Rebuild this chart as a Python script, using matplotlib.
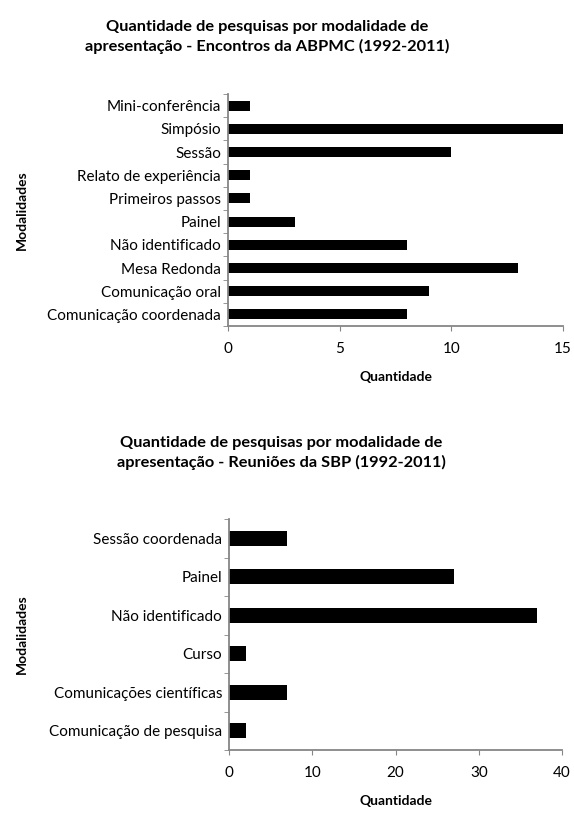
import matplotlib
matplotlib.use("Agg")
import matplotlib.pyplot as plt
import numpy as np

plt.rcParams['font.family'] = ['Lato', 'DejaVu Sans']

# --- dados ---
abpmc_cats = ["Comunicação coordenada", "Comunicação oral", "Mesa Redonda",
              "Não identificado", "Painel", "Primeiros passos",
              "Relato de experiência", "Sessão", "Simpósio", "Mini-conferência"]
abpmc_vals = [8, 9, 13, 8, 3, 1, 1, 10, 15, 1]
abpmc_xticks = [0, 5, 10, 15]

sbp_cats = ["Comunicação de pesquisa", "Comunicações científicas", "Curso",
            "Não identificado", "Painel", "Sessão coordenada"]
sbp_vals = [2, 7, 2, 37, 27, 7]
sbp_xticks = [0, 10, 20, 30, 40]

AXIS_GREY = '#868686'
H = 815.0

fig = plt.figure(figsize=(5.74, 8.15), dpi=100)


def draw_panel(rect, cats, vals, xticks, bar_h, title, title_xy):
    ax = fig.add_axes(rect)
    y = np.arange(len(cats))
    ax.barh(y, vals, height=bar_h, color='black')
    ax.set_xlim(xticks[0], xticks[-1])
    ax.set_ylim(-0.5, len(cats) - 0.5)
    ax.set_xticks(xticks)
    ax.set_yticks(y)
    ax.set_yticklabels(cats)
    ax.set_yticks(np.arange(len(cats) + 1) - 0.5, minor=True)
    ax.tick_params(axis='y', which='major', length=0, pad=5, labelsize=11)
    ax.tick_params(axis='y', which='minor', length=3.5, direction='out', color=AXIS_GREY)
    ax.tick_params(axis='x', length=3.5, direction='out', color=AXIS_GREY, labelsize=11, pad=8)
    for s in ['top', 'right']:
        ax.spines[s].set_visible(False)
    for s in ['left', 'bottom']:
        ax.spines[s].set_color(AXIS_GREY)
        ax.spines[s].set_linewidth(1.3)
    ax.set_xlabel('Quantidade', fontsize=10, fontweight='bold', labelpad=11)
    fig.text(title_xy[0], title_xy[1], title, ha='center', va='center',
             fontsize=11.8, fontweight='bold', linespacing=1.35)
    return ax


ax1 = draw_panel([228 / 574, 1 - 326 / H, 335 / 574, 232 / H], abpmc_cats, abpmc_vals,
                 abpmc_xticks, 0.43,
                 "Quantidade de pesquisas por modalidade de\napresentação - Encontros da ABPMC (1992-2011)",
                 (267 / 574, 1 - 37 / H))
ax2 = draw_panel([229 / 574, 1 - 750 / H, 333 / 574, 231 / H], sbp_cats, sbp_vals,
                 sbp_xticks, 0.39,
                 "Quantidade de pesquisas por modalidade de\napresentação - Reuniões da SBP (1992-2011)",
                 (281 / 574, 1 - 453 / H))

fig.text(22 / 574, 1 - 210 / H, 'Modalidades', rotation=90, ha='center', va='center',
         fontsize=10, fontweight='bold')
fig.text(22 / 574, 1 - 634 / H, 'Modalidades', rotation=90, ha='center', va='center',
         fontsize=10, fontweight='bold')

fig.savefig('out.png', dpi=100, facecolor='white')
